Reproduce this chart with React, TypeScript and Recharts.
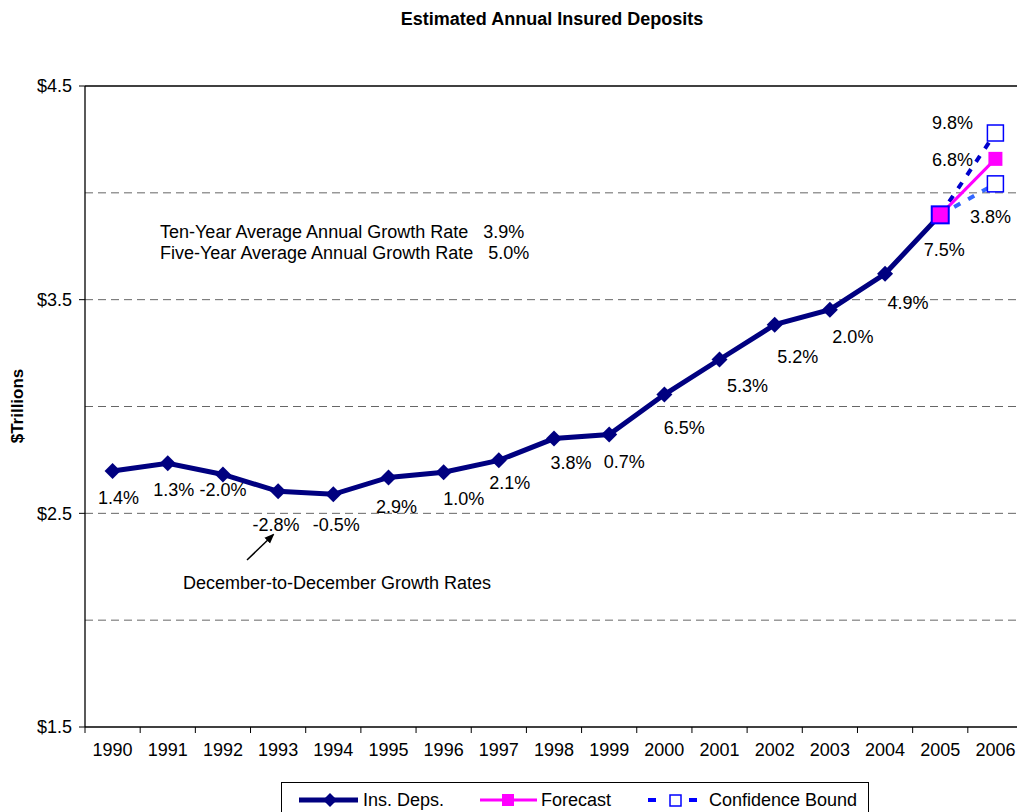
import React from "react";
import { LineChart, Line, XAxis, YAxis, ReferenceLine, LabelList } from "recharts";

const years = ["1990", "1991", "1992", "1993", "1994", "1995", "1996", "1997", "1998", "1999", "2000", "2001", "2002", "2003", "2004", "2005", "2006"];
// $ trillions, Dec-to-Dec
const insDeps = [2.698, 2.734, 2.682, 2.603, 2.589, 2.668, 2.692, 2.748, 2.85, 2.869, 3.056, 3.22, 3.383, 3.453, 3.621, 3.897];
const growthRates = ["1.4%", "1.3%", "-2.0%", "-2.8%", "-0.5%", "2.9%", "1.0%", "2.1%", "3.8%", "0.7%", "6.5%", "5.3%", "5.2%", "2.0%", "4.9%", "7.5%"];
// 2005 -> 2006
const forecast = [3.897, 4.159];
const upperBound = [3.897, 4.28];
const lowerBound = [3.897, 4.042];
const forecastRates = ["6.8%", "9.8%", "3.8%"];
const yTicks = [1.5, 2.5, 3.5, 4.5];
const gridValues = [2.0, 2.5, 3.0, 3.5, 4.0];

// label offsets (text centre relative to the point)
const depLabelOffsets = [[6, 27], [6, 27], [0, 16], [-2, 34], [3, 31], [8, 30], [20, 27], [11, 23], [17, 24], [15, 28], [20, 33], [28, 27], [23, 32], [23, 27], [23, 29], [4, 35]];

const data = years.map((year, i) => ({
  idx: i,
  year,
  deps: i < insDeps.length ? insDeps[i] : null,
  growth: i < growthRates.length ? growthRates[i] : "",
  forecast: i >= 15 ? forecast[i - 15] : null,
  upper: i >= 15 ? upperBound[i - 15] : null,
  lower: i >= 15 ? lowerBound[i - 15] : null,
  fLabel: i === 16 ? forecastRates[0] : "",
  uLabel: i === 16 ? forecastRates[1] : "",
  lLabel: i === 16 ? forecastRates[2] : "",
}));

const FONT = "'Liberation Sans', Arial, sans-serif";
const CHART_W = 1040;
const CHART_H = 812;
const PLOT_LEFT = 85;
const PLOT_RIGHT = 1023;
const STEP = (PLOT_RIGHT - PLOT_LEFT) / years.length;

const Diamond = (props: any) => {
  const { cx, cy, payload } = props;
  if (cx == null || cy == null || payload.deps == null) return null;
  const r = 8;
  return <path d={`M${cx},${cy - r}L${cx + r},${cy}L${cx},${cy + r}L${cx - r},${cy}Z`} fill="#000080" />;
};

const ForecastDot = (props: any) => {
  const { cx, cy, index } = props;
  if (cx == null || cy == null) return null;
  if (index === 15) {
    return <rect x={cx - 8.5} y={cy - 8.5} width={17} height={17} fill="#FF00FF" stroke="#0000FF" strokeWidth={2} />;
  }
  return <rect x={cx - 7} y={cy - 7} width={14} height={14} fill="#FF00FF" />;
};

const OpenSquare = (props: any) => {
  const { cx, cy, index } = props;
  if (cx == null || cy == null || index !== 16) return null;
  return <rect x={cx - 8} y={cy - 8} width={16} height={16} fill="#fff" stroke="#0000FF" strokeWidth={1.5} />;
};

const pctText = (x: number, y: number, value: string) => (
  <text x={x} y={y} textAnchor="middle" dominantBaseline="central" fontSize={18} fontFamily={FONT} fill="#000">
    {value}
  </text>
);

const DepLabel = (props: any) => {
  const { x, y, index, value } = props;
  if (!value || x == null) return null;
  const [dx, dy] = depLabelOffsets[index] || [0, 25];
  return pctText(x + dx, y + dy, value);
};

const makeEndLabel = (dx: number, dy: number) => (props: any) => {
  const { x, y, value } = props;
  if (!value || x == null) return null;
  return pctText(x + dx, y + dy, value);
};

const YearTick = (props: any) => {
  const { x, y, payload } = props;
  const bx = x - STEP / 2;
  return (
    <g>
      <line x1={bx} x2={bx} y1={y} y2={y + 6} stroke="#000" />
      {payload.value === years.length - 1 && <line x1={x + STEP / 2} x2={x + STEP / 2} y1={y} y2={y + 6} stroke="#000" />}
      <text x={x} y={y + 23} textAnchor="middle" dominantBaseline="central" fontSize={18} fontFamily={FONT} fill="#000">
        {years[payload.value]}
      </text>
    </g>
  );
};

const App: React.FC = () => {
  return (
    <div style={{ position: "fixed", left: 0, top: 0, width: 1017, height: 812, overflow: "hidden", background: "#fff" }}>
      <LineChart
        width={CHART_W}
        height={CHART_H}
        data={data}
        margin={{ top: 86, right: CHART_W - PLOT_RIGHT, left: 0, bottom: 85 - 30 }}
      >
        <XAxis
          dataKey="idx"
          type="number"
          domain={[-0.5, years.length - 0.5]}
          ticks={years.map((_, i) => i)}
          interval={0}
          height={30}
          tickSize={0}
          tickMargin={0}
          tickLine={false}
          axisLine={{ stroke: "#000", strokeWidth: 1.3 }}
          tick={<YearTick />}
        />
        <YAxis
          type="number"
          domain={[1.5, 4.5]}
          ticks={yTicks}
          width={PLOT_LEFT}
          tickSize={6}
          tickMargin={7}
          axisLine={{ stroke: "#000", strokeWidth: 1.3 }}
          tickLine={{ stroke: "#000" }}
          tick={{ fill: "#000", fontSize: 18, fontFamily: FONT }}
          tickFormatter={(v: number) => `$${v.toFixed(1)}`}
        />
        {gridValues.map((v) => (
          <ReferenceLine key={v} y={v} stroke="#666" strokeDasharray="8 5" />
        ))}
        <ReferenceLine y={4.5} stroke="#000" strokeWidth={1.3} />

        <Line
          dataKey="upper"
          stroke="#0000CC"
          strokeWidth={4}
          strokeDasharray="7 9"
          dot={<OpenSquare />}
          activeDot={false}
          isAnimationActive={false}
        >
          <LabelList dataKey="uLabel" content={makeEndLabel(-43, -10)} />
        </Line>
        <Line
          dataKey="lower"
          stroke="#3366FF"
          strokeWidth={4}
          strokeDasharray="7 9"
          dot={<OpenSquare />}
          activeDot={false}
          isAnimationActive={false}
        >
          <LabelList dataKey="lLabel" content={makeEndLabel(-5, 33)} />
        </Line>
        <Line
          dataKey="deps"
          stroke="#000080"
          strokeWidth={5}
          dot={<Diamond />}
          activeDot={false}
          isAnimationActive={false}
        >
          <LabelList dataKey="growth" content={<DepLabel />} />
        </Line>
        <Line
          dataKey="forecast"
          stroke="#FF00FF"
          strokeWidth={3}
          dot={<ForecastDot />}
          activeDot={false}
          isAnimationActive={false}
        >
          <LabelList dataKey="fLabel" content={makeEndLabel(-43, 1)} />
        </Line>
      </LineChart>

      {/* title, axis title and notes */}
      <svg width={1017} height={812} style={{ position: "absolute", left: 0, top: 0, pointerEvents: "none" }}>
        <defs>
          <marker id="arrowHead" markerWidth="10" markerHeight="10" refX="8" refY="5" orient="auto" markerUnits="userSpaceOnUse">
            <path d="M0,1 L10,5 L0,9 Z" fill="#000" />
          </marker>
        </defs>
        <text x={552} y={19} textAnchor="middle" dominantBaseline="central" fontSize={18} fontWeight="bold" fontFamily={FONT}>
          Estimated Annual Insured Deposits
        </text>
        <text
          x={17}
          y={406}
          textAnchor="middle"
          dominantBaseline="central"
          fontSize={17}
          fontWeight="bold"
          fontFamily={FONT}
          transform="rotate(-90 17 406)"
        >
          $Trillions
        </text>
        <text x={160} y={232} dominantBaseline="central" fontSize={18} fontFamily={FONT} style={{ whiteSpace: "pre" }}>
          {"Ten-Year Average Annual Growth Rate   3.9%"}
        </text>
        <text x={160} y={253} dominantBaseline="central" fontSize={18} fontFamily={FONT} style={{ whiteSpace: "pre" }}>
          {"Five-Year Average Annual Growth Rate   5.0%"}
        </text>
        <text x={183} y={583} dominantBaseline="central" fontSize={18} fontFamily={FONT}>
          December-to-December Growth Rates
        </text>
        <line x1={247} y1={560} x2={273} y2={535} stroke="#000" strokeWidth={1.5} markerEnd="url(#arrowHead)" />
      </svg>

      {/* legend */}
      <div
        style={{
          position: "absolute",
          left: 281,
          top: 782,
          width: 588,
          height: 40,
          border: "1px solid #000",
          boxSizing: "border-box",
          fontFamily: FONT,
          fontSize: 18,
        }}
      >
        <svg width={588} height={40} style={{ position: "absolute", left: 0, top: 0 }}>
          <line x1={17} x2={76} y1={17} y2={17} stroke="#000080" strokeWidth={5} />
          <path d="M48,10L55,17L48,24L41,17Z" fill="#000080" />
          <text x={81} y={17} dominantBaseline="central" fontSize={18} fontFamily={FONT}>Ins. Deps.</text>
          <line x1={198} x2={255} y1={17} y2={17} stroke="#FF00FF" strokeWidth={3} />
          <rect x={220} y={11} width={12} height={12} fill="#FF00FF" />
          <text x={259} y={17} dominantBaseline="central" fontSize={18} fontFamily={FONT}>Forecast</text>
          <line x1={366} x2={374} y1={17} y2={17} stroke="#0000FF" strokeWidth={4} />
          <rect x={388} y={12} width={11} height={11} fill="#fff" stroke="#0000FF" strokeWidth={1.5} />
          <line x1={407} x2={415} y1={17} y2={17} stroke="#0000FF" strokeWidth={4} />
          <text x={427} y={17} dominantBaseline="central" fontSize={18} fontFamily={FONT}>Confidence Bound</text>
        </svg>
      </div>
    </div>
  );
};

export default App;
